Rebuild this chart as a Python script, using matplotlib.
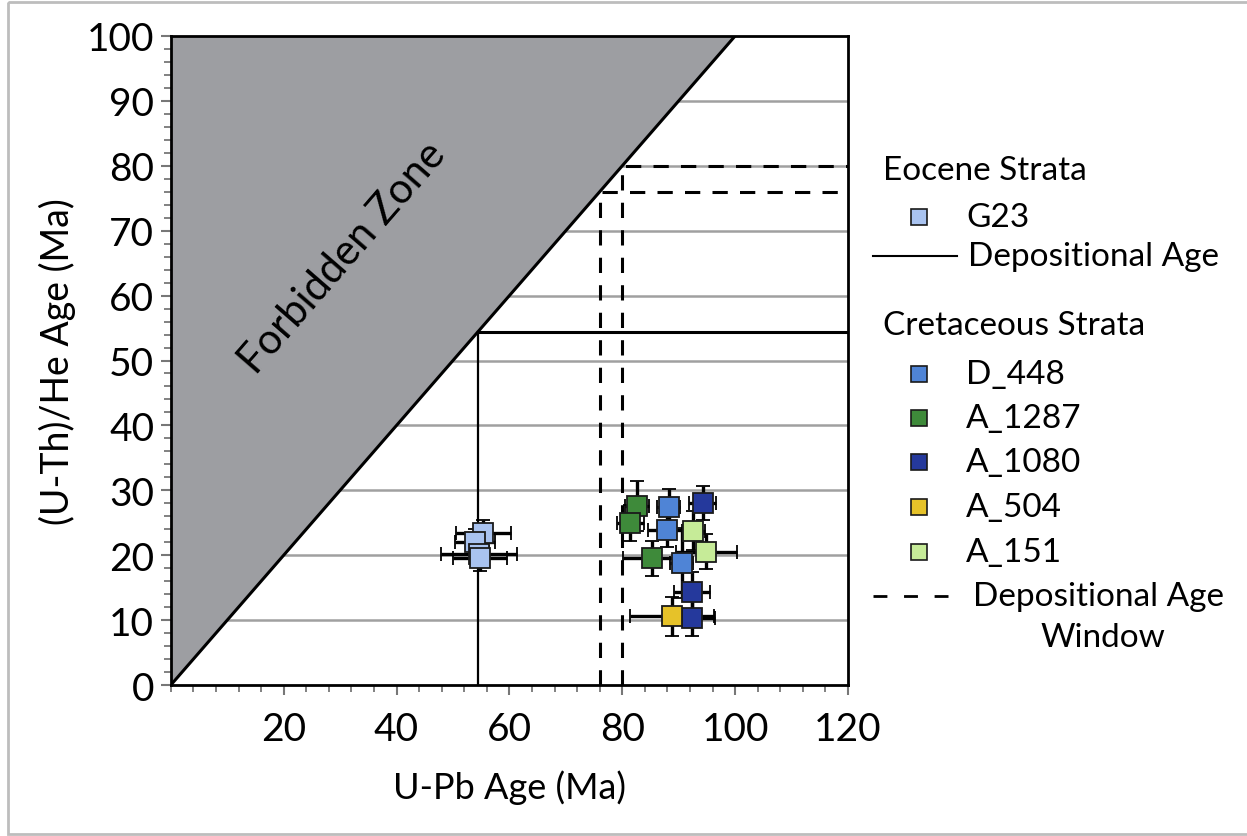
import matplotlib.pyplot as plt
from matplotlib.patches import Polygon, Rectangle

plt.rcParams['font.family'] = ['Lato', 'DejaVu Sans']

# Eocene sample G23: U-Pb age, U-Th/He age, errors
g23_upb = [55.4, 53.9, 54.6, 54.8]
g23_he = [23.4, 22.1, 20.2, 19.6]
g23_xerr = [4.9, 3.5, 6.7, 4.8]
g23_yerr = [2.0, 2.0, 2.0, 2.0]

# Cretaceous samples
d448_upb = [88.2, 87.9, 90.5]
d448_he = [27.5, 23.9, 18.8]
d448_xerr = [2.1, 3.3, 2.0]
d448_yerr = [2.7, 2.7, 5.4]

a1287_upb = [82.6, 81.4, 85.2]
a1287_he = [27.6, 25.0, 19.5]
a1287_xerr = [2.1, 2.4, 5.1]
a1287_yerr = [3.9, 2.8, 2.7]

a1080_upb = [94.3, 92.3, 92.3]
a1080_he = [28.0, 14.4, 10.4]
a1080_xerr = [2.4, 3.2, 4.2]
a1080_yerr = [2.6, 3.0, 2.9]

a504_upb = [88.8]
a504_he = [10.6]
a504_xerr = [7.5]
a504_yerr = [3.0]

a151_upb = [92.6, 94.9]
a151_he = [23.8, 20.5]
a151_xerr = [2.0, 5.4]
a151_yerr = [3.0, 2.7]

dep_age = 54.4          # Eocene depositional age
dep_window = [76.0, 80.0]  # Cretaceous depositional age window

samples = [
    ("G23", g23_upb, g23_he, g23_xerr, g23_yerr, "#a9c3f0"),
    ("D_448", d448_upb, d448_he, d448_xerr, d448_yerr, "#4f84d6"),
    ("A_1287", a1287_upb, a1287_he, a1287_xerr, a1287_yerr, "#3e8a3a"),
    ("A_1080", a1080_upb, a1080_he, a1080_xerr, a1080_yerr, "#25399c"),
    ("A_504", a504_upb, a504_he, a504_xerr, a504_yerr, "#e6c229"),
    ("A_151", a151_upb, a151_he, a151_xerr, a151_yerr, "#c6eb98"),
]

fig = plt.figure(figsize=(12.47, 8.37), dpi=100)
ax = fig.add_axes([0.137, 0.1804, 0.543, 0.7754])
ax.set_xlim(0, 120)
ax.set_ylim(0, 100)

# horizontal grid
for yv in range(10, 100, 10):
    ax.axhline(yv, color="#a0a0a0", lw=1.8, zorder=1)

# forbidden zone
ax.add_patch(Polygon([(0, 0), (100, 100), (0, 100)], closed=True,
                     facecolor="#9d9ea2", edgecolor="none", zorder=2))
ax.plot([0, 100], [0, 100], color="black", lw=2.2, zorder=3)
ax.text(30.5, 66, "Forbidden Zone", rotation=49, ha="center", va="center",
        fontsize=30, zorder=4)

# depositional age (solid) and window (dashed)
ax.plot([dep_age, dep_age], [0, dep_age], color="black", lw=1.6, zorder=3)
ax.plot([dep_age, 120], [dep_age, dep_age], color="black", lw=2.2, zorder=3)
for d in dep_window:
    ax.plot([d, d, 120], [0, d, d], color="black", lw=2.2,
            dashes=(5, 4), zorder=3)

for name, xs, ys, xe, ye, col in samples:
    ax.errorbar(xs, ys, xerr=xe, yerr=ye, fmt="s", ms=14.5, mfc=col,
                mec="#1a1a1a", mew=1.3, ecolor="black", elinewidth=2.4,
                capsize=5, capthick=2.4, zorder=5)

ax.set_xticks([20, 40, 60, 80, 100, 120])
ax.set_xticks(range(0, 121, 4), minor=True)
ax.set_yticks(range(0, 101, 10))
ax.set_yticks(range(0, 101, 2), minor=True)
ax.tick_params(axis="both", which="major", labelsize=28, length=7,
               width=1.5, color="#777777")
ax.tick_params(axis="both", which="minor", length=5, width=1.3,
               color="#777777")
ax.tick_params(axis="x", pad=12)
ax.tick_params(axis="y", pad=5)
for s in ax.spines.values():
    s.set_linewidth(2)
ax.set_xlabel("U-Pb Age (Ma)", fontsize=26, labelpad=16)
ax.set_ylabel("(U-Th)/He Age (Ma)", fontsize=27, labelpad=8)

# legend drawn in pixel coordinates
lax = fig.add_axes([0, 0, 1, 1], zorder=10)
lax.set_xlim(0, 1247)
lax.set_ylim(837, 0)
lax.axis("off")
lax.patch.set_alpha(0)
lax.add_patch(Rectangle((8, 3), 1260, 832, fill=False, edgecolor="#bdbdbd",
                        lw=2))

fs = 24
lax.text(883, 171, "Eocene Strata", fontsize=fs, va="center")
lax.plot(919, 218, "s", ms=11, mfc=samples[0][5], mec="#1a1a1a", mew=1.2)
lax.text(966, 218, "G23", fontsize=fs, va="center")
lax.plot([873, 957], [257, 257], color="black", lw=1.5)
lax.text(968, 257, "Depositional Age", fontsize=fs, va="center")
lax.text(883, 326, "Cretaceous Strata", fontsize=fs, va="center")
rows = [375, 419, 463, 508, 553]
for (name, xs, ys, xe, ye, col), yy in zip(samples[1:], rows):
    lax.plot(919, yy, "s", ms=11, mfc=col, mec="#1a1a1a", mew=1.2)
    lax.text(966, yy, name, fontsize=fs, va="center")
lax.plot([873, 957], [597, 597], color="black", lw=2, dashes=(5, 6))
lax.text(973, 597, "Depositional Age", fontsize=fs, va="center")
lax.text(1103, 638, "Window", fontsize=fs, va="center", ha="center")

fig.savefig("out.png", dpi=100)
plt.close(fig)
